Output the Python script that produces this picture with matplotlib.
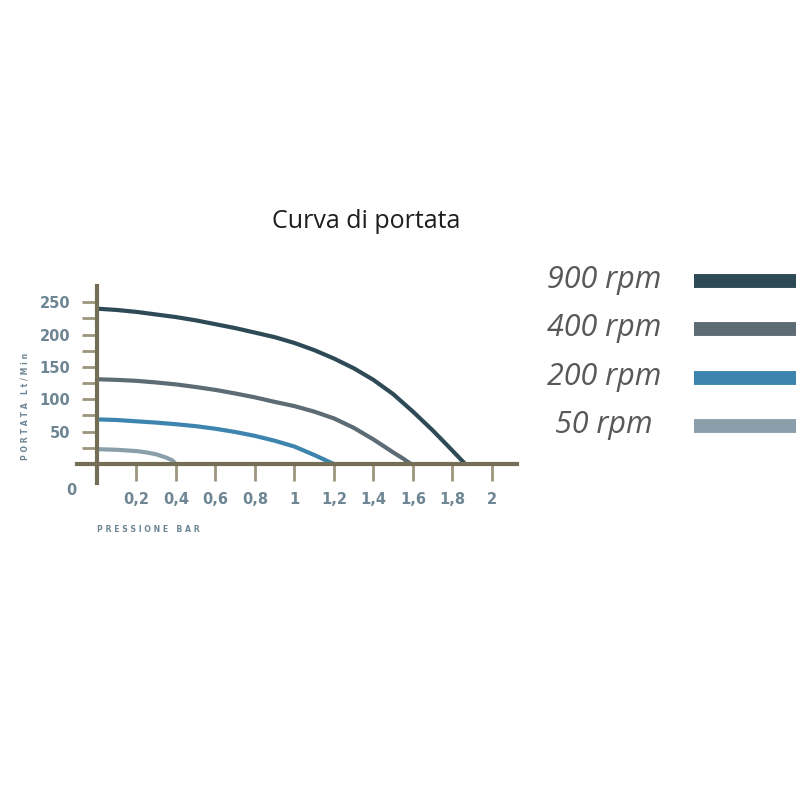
import matplotlib
matplotlib.use("Agg")
import matplotlib.pyplot as plt
from matplotlib.ticker import FixedLocator

# curve data (pressure in bar, flow in Lt/Min)
p_900 = [0.0, 0.1, 0.2, 0.3, 0.4, 0.5, 0.6, 0.7, 0.8, 0.9, 1.0, 1.1, 1.2,
         1.3, 1.4, 1.5, 1.6, 1.7, 1.78, 1.865]
q_900 = [240, 238, 235, 231, 227, 222, 216, 210, 203, 196, 187, 176, 163,
         148, 130, 108, 81, 52, 27, 0]

p_400 = [0.0, 0.1, 0.2, 0.3, 0.4, 0.5, 0.6, 0.7, 0.8, 0.9, 1.0, 1.1, 1.2,
         1.3, 1.4, 1.5, 1.55, 1.59]
q_400 = [131, 130, 128.5, 126, 123, 119, 114.5, 109, 103, 96, 89.5, 81, 70.5,
         56, 38, 18, 8.5, 0]

p_200 = [0.0, 0.1, 0.2, 0.3, 0.4, 0.5, 0.6, 0.7, 0.8, 0.9, 1.0, 1.1, 1.15, 1.2]
q_200 = [69, 68, 66, 64, 61.5, 58.5, 54.5, 49.5, 43.5, 36, 27, 14, 7, 0]

p_50 = [0.0, 0.1, 0.2, 0.25, 0.3, 0.35, 0.38, 0.40]
q_50 = [23, 22, 20, 18, 15, 10, 6, 0]

labels = ["900 rpm", "400 rpm", "200 rpm", "50 rpm"]
colors = ["#2e4a56", "#5d6b75", "#3d85ae", "#8b9fab"]

x_ticks = [0.2, 0.4, 0.6, 0.8, 1.0, 1.2, 1.4, 1.6, 1.8, 2.0]
x_ticklabels = ["0,2", "0,4", "0,6", "0,8", "1", "1,2", "1,4", "1,6", "1,8", "2"]
y_ticks = [50, 100, 150, 200, 250]
y_minor = [25, 75, 125, 175, 225]

axis_col = "#756e56"
tick_col = "#9d967f"
lab_col = "#6e8694"

fig = plt.figure(figsize=(8, 8), dpi=100)

# main chart axes, placed in figure pixels
W = H = 800
ax = fig.add_axes([77 / W, 1 - 483 / H, (517 - 77) / W, (483 - 286) / H])
ax.set_xlim(-0.101, 2.127)
ax.set_ylim(-29.3, 275)

series = [(p_900, q_900), (p_400, q_400), (p_200, q_200), (p_50, q_50)]
for (px, qy), c in zip(series, colors):
    ax.plot(px, qy, color=c, lw=3, solid_capstyle="round",
            solid_joinstyle="round", zorder=3)

for s in ["top", "right"]:
    ax.spines[s].set_visible(False)
for s in ["left", "bottom"]:
    ax.spines[s].set_position(("data", 0))
    ax.spines[s].set_color(axis_col)
    ax.spines[s].set_linewidth(3)
    ax.spines[s].set_zorder(4)

ax.set_xticks(x_ticks)
ax.set_xticklabels(x_ticklabels)
ax.set_yticks(y_ticks)
ax.yaxis.set_minor_locator(FixedLocator(y_minor))
ax.tick_params(axis="x", direction="out", length=12, width=2, color=tick_col,
               pad=8, labelsize=10.5, labelcolor=lab_col)
ax.tick_params(axis="y", which="both", direction="out", length=11, width=2,
               color=tick_col, pad=8, labelsize=10.5, labelcolor=lab_col)
for t in ax.get_xticklabels() + ax.get_yticklabels():
    t.set_fontweight("bold")
    t.set_fontfamily("DejaVu Sans")

ax.text(-0.127, -41.5, "0", color=lab_col, fontsize=10.5, fontweight="bold",
        ha="center", va="center", clip_on=False)

fig.text(25 / W, 1 - 406 / H, "P O R T A T A   L t / M i n", rotation=90,
         ha="center", va="center", fontsize=5.6, fontweight="bold", color=lab_col)
fig.text(148 / W, 1 - 529 / H, "P R E S S I O N E   B A R",
         ha="center", va="center", fontsize=5.6, fontweight="bold", color=lab_col)

fig.text(366 / W, 1 - 221 / H, "Curva di portata", ha="center", va="center",
         fontsize=18, color="#1e1e1e", family="Open Sans")

# legend drawn at the right: label then colour bar
lg = fig.add_axes([540 / W, 1 - 450 / H, 260 / W, 193 / H])
lg.set_xlim(0, 1)
lg.set_ylim(len(labels) - 0.5, -0.5)
lg.axis("off")
for i, (lab, c) in enumerate(zip(labels, colors)):
    lg.hlines(i, 0.592, 0.985, color=c, lw=10)
    lg.text(0.246, i - 0.02, lab, ha="center", va="center", fontsize=22,
            style="italic", color="#585858", family="Open Sans")

fig.savefig("out.png", dpi=100, facecolor="white")
